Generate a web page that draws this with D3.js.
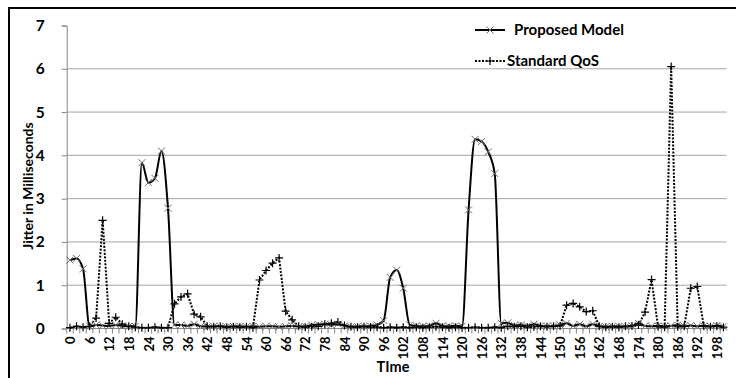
<!DOCTYPE html>
<html>
<head>
<meta charset="utf-8">
<script src="https://cdn.jsdelivr.net/npm/d3@7"></script>
<style>
  body { margin: 0; background: #fff; }
  svg text { font-family: Lato, "Noto Sans", sans-serif; font-weight: bold; fill: #000; }
</style>
</head>
<body>
<svg id="chart"></svg>
<script>
const width = 736;
const height = 378;

// categories: time 0, 2, 4 ... 200
const times = d3.range(0, 201, 2);
const xLabelEvery = 3;
const yTicks = [0, 1, 2, 3, 4, 5, 6, 7];

const proposedModel = [
  1.58, 1.62, 1.38, 0.05, 0.08, 0.07, 0.06, 0.08, 0.06, 0.05,
  0.05, 3.83, 3.37, 3.47, 4.10, 2.78, 0.08, 0.08, 0.06, 0.10,
  0.05, 0.04, 0.05, 0.05, 0.04, 0.05, 0.05, 0.04, 0.05, 0.04,
  0.05, 0.05, 0.04, 0.05, 0.06, 0.04, 0.05, 0.08, 0.09, 0.10,
  0.08, 0.10, 0.06, 0.04, 0.05, 0.05, 0.06, 0.08, 0.18, 1.18,
  1.35, 0.93, 0.08, 0.06, 0.05, 0.06, 0.12, 0.06, 0.05, 0.06,
  0.05, 2.74, 4.37, 4.32, 4.08, 3.58, 0.12, 0.13, 0.07, 0.08,
  0.06, 0.10, 0.06, 0.05, 0.06, 0.08, 0.12, 0.06, 0.10, 0.05,
  0.10, 0.05, 0.04, 0.05, 0.05, 0.04, 0.06, 0.12, 0.06, 0.05,
  0.06, 0.05, 0.06, 0.08, 0.05, 0.07, 0.05, 0.06, 0.05, 0.07,
  0.04
];

const standardQoS = [
  0.02, 0.05, 0.03, 0.05, 0.24, 2.50, 0.12, 0.26, 0.10, 0.05,
  0.03, 0.02, 0.02, 0.03, 0.02, 0.02, 0.57, 0.73, 0.80, 0.33,
  0.27, 0.05, 0.04, 0.05, 0.03, 0.04, 0.03, 0.04, 0.02, 1.12,
  1.34, 1.51, 1.63, 0.40, 0.20, 0.05, 0.03, 0.04, 0.05, 0.10,
  0.12, 0.15, 0.07, 0.04, 0.03, 0.04, 0.03, 0.03, 0.02, 0.03,
  0.02, 0.03, 0.02, 0.03, 0.02, 0.03, 0.04, 0.03, 0.02, 0.03,
  0.02, 0.02, 0.03, 0.02, 0.02, 0.03, 0.02, 0.05, 0.04, 0.05,
  0.03, 0.04, 0.05, 0.04, 0.05, 0.06, 0.54, 0.58, 0.50, 0.39,
  0.41, 0.05, 0.03, 0.04, 0.03, 0.05, 0.06, 0.08, 0.38, 1.13,
  0.04, 0.03, 6.05, 0.04, 0.05, 0.93, 0.97, 0.05, 0.04, 0.05,
  0.03
];

const svg = d3.select("#chart")
    .attr("width", width)
    .attr("height", height);

// outer frame (only top and left visible in the crop)
svg.append("rect")
    .attr("x", 9).attr("y", 8)
    .attr("width", 800).attr("height", 400)
    .attr("fill", "none")
    .attr("stroke", "#000")
    .attr("stroke-width", 2);

const x = d3.scalePoint()
    .domain(times)
    .range([66.7, 726.7])
    .padding(0.5);

const y = d3.scaleLinear()
    .domain([0, 7])
    .range([328.5, 25.5]);

// gridlines
svg.append("g")
    .selectAll("line")
    .data(yTicks.filter(d => d > 0 && d < 7))
    .join("line")
    .attr("x1", 66.7).attr("x2", 726.7)
    .attr("y1", d => y(d)).attr("y2", d => y(d))
    .attr("stroke", "#a6a6a6")
    .attr("stroke-width", 1);

// y axis
const yAxis = svg.append("g")
    .attr("transform", "translate(66.7,0)")
    .call(d3.axisLeft(y).tickValues(yTicks).tickFormat(d3.format("d")).tickSize(5).tickPadding(17));
yAxis.select(".domain").attr("stroke", "#868686");
yAxis.selectAll(".tick line").attr("stroke", "#868686");
yAxis.selectAll("text").style("font-size", "15.5px");

// x axis
const step = x.step();
svg.append("line")
    .attr("x1", 66.7).attr("x2", 726.7)
    .attr("y1", y(0)).attr("y2", y(0))
    .attr("stroke", "#868686");

svg.append("g")
    .selectAll("line")
    .data(times)
    .join("line")
    .attr("x1", d => x(d) - step / 2).attr("x2", d => x(d) - step / 2)
    .attr("y1", y(0)).attr("y2", y(0) + 5)
    .attr("stroke", "#868686");

const xAxis = svg.append("g")
    .attr("transform", `translate(0,${y(0)})`)
    .call(d3.axisBottom(x)
        .tickValues(times.filter((d, i) => i % xLabelEvery === 0))
        .tickSize(0));
xAxis.select(".domain").remove();
xAxis.selectAll("text")
    .attr("transform", "rotate(-90)")
    .attr("x", -8)
    .attr("y", 0)
    .attr("dy", "0.36em")
    .attr("text-anchor", "end")
    .style("font-size", "13px");

// axis titles
svg.append("text")
    .attr("x", 393).attr("y", 372)
    .attr("text-anchor", "middle")
    .style("font-size", "14.5px")
    .text("TIme");

svg.append("text")
    .attr("transform", "translate(33,186) rotate(-90)")
    .attr("text-anchor", "middle")
    .style("font-size", "14px")
    .text("Jitter in Milliseconds");

// series
const lineProposed = d3.line()
    .x((d, i) => x(times[i]))
    .y(d => y(d))
    .curve(d3.curveMonotoneX);

const lineStandard = d3.line()
    .x((d, i) => x(times[i]))
    .y(d => y(d));

svg.append("path")
    .datum(standardQoS)
    .attr("d", lineStandard)
    .attr("fill", "none")
    .attr("stroke", "#000")
    .attr("stroke-width", 2)
    .attr("stroke-dasharray", "2 1.5");

svg.append("path")
    .datum(proposedModel)
    .attr("d", lineProposed)
    .attr("fill", "none")
    .attr("stroke", "#000")
    .attr("stroke-width", 2);

const crossPath = s => `M${-s},${-s}L${s},${s}M${-s},${s}L${s},${-s}`;
const plusPath = s => `M${-s},0L${s},0M0,${-s}L0,${s}`;

svg.append("g")
    .selectAll("path")
    .data(proposedModel)
    .join("path")
    .attr("transform", (d, i) => `translate(${x(times[i])},${y(d)})`)
    .attr("d", crossPath(3.5))
    .attr("stroke", "#6e6e6e")
    .attr("stroke-width", 1);

svg.append("g")
    .selectAll("path")
    .data(standardQoS)
    .join("path")
    .attr("transform", (d, i) => `translate(${x(times[i])},${y(d)})`)
    .attr("d", plusPath(4))
    .attr("stroke", "#000")
    .attr("stroke-width", 1.2);

// legend
const legend = svg.append("g");
legend.append("line")
    .attr("x1", 475).attr("x2", 505).attr("y1", 30).attr("y2", 30)
    .attr("stroke", "#000").attr("stroke-width", 2);
legend.append("path")
    .attr("transform", "translate(490,30)")
    .attr("d", crossPath(3.5))
    .attr("stroke", "#6e6e6e");
legend.append("text")
    .attr("x", 514).attr("y", 35)
    .style("font-size", "15px")
    .text("Proposed Model");

legend.append("line")
    .attr("x1", 475).attr("x2", 506).attr("y1", 61).attr("y2", 61)
    .attr("stroke", "#000").attr("stroke-width", 2)
    .attr("stroke-dasharray", "2 1.5");
legend.append("path")
    .attr("transform", "translate(490,61)")
    .attr("d", plusPath(4))
    .attr("stroke", "#000").attr("stroke-width", 1.2);
legend.append("text")
    .attr("x", 507).attr("y", 66)
    .style("font-size", "15px")
    .text("Standard QoS");
</script>
</body>
</html>
